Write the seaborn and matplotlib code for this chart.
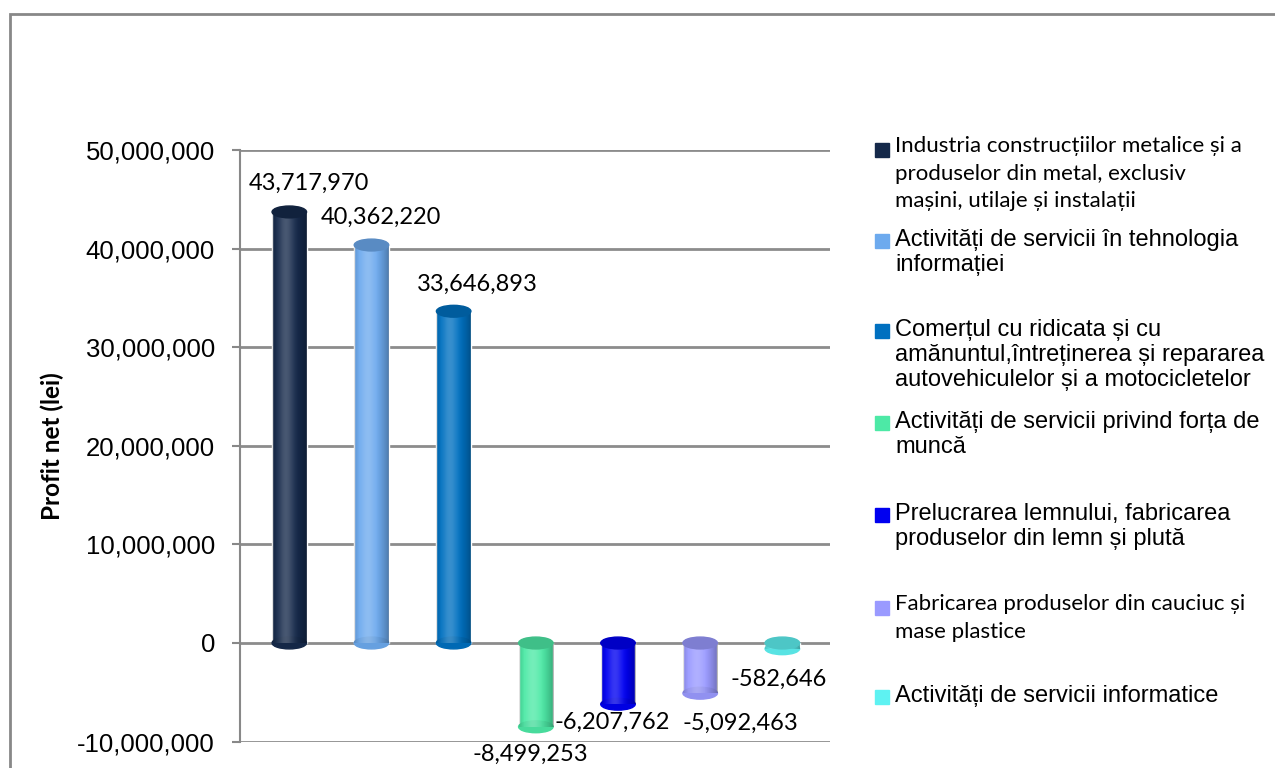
import matplotlib
matplotlib.use("Agg")
import matplotlib.pyplot as plt
from matplotlib.patches import Ellipse, Rectangle
from matplotlib.ticker import FuncFormatter
from matplotlib.colors import to_rgb
import numpy as np
import pandas as pd
import seaborn as sns

legend_labels = [
    "Industria construcțiilor metalice și a\nproduselor din metal, exclusiv\nmașini, utilaje și instalații",
    "Activități de servicii în tehnologia\ninformației",
    "Comerțul cu ridicata și cu\namănuntul,întreținerea și repararea\nautovehiculelor și a motocicletelor",
    "Activități de servicii privind forța de\nmuncă",
    "Prelucrarea lemnului, fabricarea\nproduselor din lemn și plută",
    "Fabricarea produselor din cauciuc și\nmase plastice",
    "Activități de servicii informatice",
]
categories = [s.replace("\n", " ") for s in legend_labels]
profit = [43717970, 40362220, 33646893, -8499253, -6207762, -5092463, -582646]
colors = ["#15294A", "#6DAAEE", "#0070C0", "#4DE9A6", "#0000F0", "#9A9AFF", "#5EF2F2"]
y_ticks = [-10000000, 0, 10000000, 20000000, 30000000, 40000000, 50000000]

# label offsets in pixels (dx, dy) from the bar end
label_off = [(20, 29), (9, 28), (24, 27), (-6, -28), (-6, -18), (40, -30), (-4, -31)]
# legend: first line centre (px from top), calibri-like font or not
leg_y = [148, 239, 329, 421, 513, 606, 695]
leg_calibri = [True, False, False, False, False, True, False]

sns.set_theme(style="white")
plt.rcParams['font.family'] = ['Liberation Sans', 'DejaVu Sans']
plt.rcParams['text.color'] = 'black'
plt.rcParams['axes.labelcolor'] = 'black'
plt.rcParams['ytick.color'] = 'black'

W, H = 1275, 768
fig = plt.figure(figsize=(W / 100, H / 100), dpi=100)
ax = fig.add_axes([240 / W, 1 - 741.6 / H, 590 / W, 591.6 / H])

df = pd.DataFrame({"cat": categories, "profit": profit})
sns.barplot(data=df, x="cat", y="profit", hue="cat", palette=colors,
            dodge=False, width=0.42, legend=False, ax=ax, saturation=1)

ax.set_xticks([])
ax.set_xlabel("")
ax.set_yticks(y_ticks)
ax.yaxis.set_major_formatter(FuncFormatter(lambda v, p: f"{v:,.0f}"))
ax.set_ylabel("Profit net (lei)", fontsize=17.5, fontweight="bold", color="black",
              family=["Lato", "DejaVu Sans"])
ax.yaxis.set_label_coords(-0.298, 0.5)
ax.tick_params(axis="y", left=True, length=6, width=1.5, color="#888888", pad=12,
               labelsize=18.5, labelcolor="black")
ax.yaxis.grid(True, color="#8C8C8C", lw=2)
ax.set_axisbelow(True)
for s in ["top", "right", "bottom"]:
    ax.spines[s].set_visible(False)
ax.spines["left"].set_color("#888888")
ax.spines["left"].set_linewidth(1.5)

# cylinder look: shading, caps and rounded ends
g = np.linspace(0, 1, 64)
hi = np.zeros((1, 64, 4))
hi[..., :3] = 1
hi[..., 3] = 0.22 * np.exp(-((g - 0.4) / 0.22) ** 2)
dk = np.zeros((1, 64, 4))
dk[..., 3] = 0.28 * np.clip((g - 0.6) / 0.4, 0, 1) ** 1.5 + 0.12 * np.clip((0.15 - g) / 0.15, 0, 1)
cap_h = 1.2e6
for bar, val, col, (dx, dy) in zip(ax.patches, profit, colors, label_off):
    x0, w = bar.get_x(), bar.get_width()
    y0, y1 = sorted([0, val])
    ax.imshow(hi, extent=[x0, x0 + w, y0, y1], aspect="auto", clip_path=bar, zorder=3)
    ax.imshow(dk, extent=[x0, x0 + w, y0, y1], aspect="auto", clip_path=bar, zorder=3)
    cx = x0 + w / 2
    c = np.array(to_rgb(col))
    ax.add_patch(Ellipse((cx, y0), w, cap_h, color=tuple(c * 0.94), zorder=2.5))
    ax.add_patch(Ellipse((cx, y1), w, cap_h, color=tuple(c * 0.82), zorder=4))
    ax.annotate(f"{val:,}", (cx, val), xytext=(dx, dy), textcoords="offset pixels",
                ha="center", va="center", fontsize=17, family=["Lato", "DejaVu Sans"],
                annotation_clip=False)
ax.set_xlim(-0.6, 6.58)
ax.set_ylim(-10000000, 50000000)

# legend drawn by hand to follow the uneven spacing
for lab, col, yc, cal in zip(legend_labels, colors, leg_y, leg_calibri):
    fig.patches.append(Rectangle((875 / W, 1 - (yc + 9) / H), 14 / W, 14 / H,
                                 transform=fig.transFigure, color=col))
    if cal:
        fig.text(895 / W, 1 - (yc - 12) / H, lab, fontsize=16, va="top", ha="left",
                 family=["Lato", "DejaVu Sans"], linespacing=1.48)
    else:
        fig.text(895 / W, 1 - (yc - 10) / H, lab, fontsize=17, va="top", ha="left",
                 linespacing=1.18)

fig.patches.append(Rectangle((10 / W, -0.1), 1.2, (H - 14) / H + 0.1, transform=fig.transFigure,
                             fill=False, edgecolor="#888888", lw=2))

fig.savefig("out.png", dpi=100)
